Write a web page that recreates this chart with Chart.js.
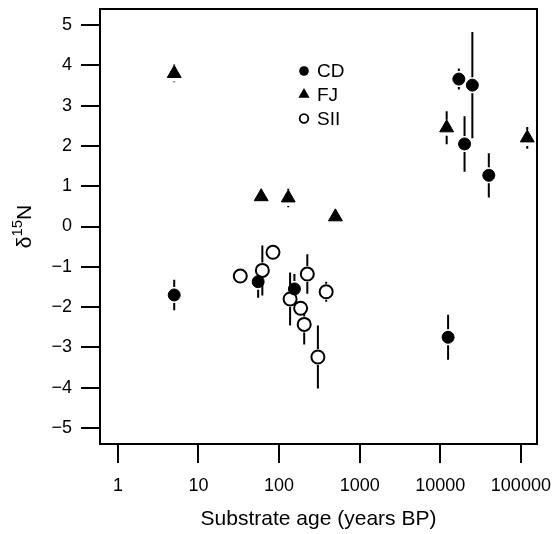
<!DOCTYPE html>
<html><head><meta charset="utf-8">
<script src="https://cdn.jsdelivr.net/npm/chart.js@4/dist/chart.umd.min.js"></script>
<style>html,body{margin:0;padding:0;background:#fff}</style>
</head><body>
<canvas id="c" width="552" height="534"></canvas>
<script>
// ---- data ----
const xTickValues = [1, 10, 100, 1000, 10000, 100000];
const yTickValues = [-5, -4, -3, -2, -1, 0, 1, 2, 3, 4, 5];

const cdAge   = [5, 55, 155, 12500, 17000, 20000, 25000, 40000];
const cdD15N  = [-1.70, -1.37, -1.55, -2.75, 3.66, 2.05, 3.51, 1.27];
const cdErr   = [0.38, 0.40, 0.37, 0.56, 0.26, 0.69, 1.32, 0.55];

const fjAge   = [5, 60, 130, 500, 12000, 120000];
const fjD15N  = [3.80, 0.74, 0.71, 0.24, 2.45, 2.20];
const fjErr   = [0.22, 0.10, 0.23, 0.10, 0.41, 0.27];

const siiAge  = [33, 62, 84, 137, 185, 205, 224, 303, 384];
const siiD15N = [-1.23, -1.09, -0.64, -1.80, -2.03, -2.43, -1.18, -3.24, -1.62];
const siiErr  = [0.10, 0.62, 0.10, 0.66, 0.20, 0.50, 0.49, 0.78, 0.25];

const seriesNames = ['CD', 'FJ', 'SII'];
const xTitle = 'Substrate age (years BP)';

const FONT = '"Liberation Sans", Arial, Helvetica, sans-serif';

function pts(xs, ys, es) { return xs.map((x, i) => ({x: x, y: ys[i], e: es[i]})); }

const errorBars = {
  id: 'errorBars',
  beforeDatasetsDraw(chart) {
    const ctx = chart.ctx, xs = chart.scales.x, ys = chart.scales.y;
    const gap = 8;
    ctx.save();
    ctx.strokeStyle = '#000';
    ctx.lineWidth = 2;
    chart.data.datasets.forEach(ds => {
      ds.data.forEach(p => {
        const px = xs.getPixelForValue(p.x), py = ys.getPixelForValue(p.y);
        const top = ys.getPixelForValue(p.y + p.e), bot = ys.getPixelForValue(p.y - p.e);
        ctx.beginPath();
        if (py - top > gap) { ctx.moveTo(px, py - gap); ctx.lineTo(px, top); }
        if (bot - py > gap) { ctx.moveTo(px, py + gap); ctx.lineTo(px, bot); }
        ctx.stroke();
      });
    });
    ctx.restore();
  }
};

const boxAndLabels = {
  id: 'boxAndLabels',
  afterDraw(chart) {
    const ctx = chart.ctx, a = chart.chartArea;
    ctx.save();
    ctx.strokeStyle = '#000';
    ctx.lineWidth = 2;
    ctx.strokeRect(a.left, a.top, a.right - a.left, a.bottom - a.top);

    // y axis title: delta 15 N
    const cy = (a.top + a.bottom) / 2;
    ctx.translate(25, cy);
    ctx.rotate(-Math.PI / 2);
    ctx.fillStyle = '#000';
    ctx.textBaseline = 'middle';
    ctx.font = '21px ' + FONT;
    const wD = ctx.measureText('\u03B4').width;
    const wN = ctx.measureText('N').width;
    ctx.font = '15px ' + FONT;
    const w15 = ctx.measureText('15').width;
    let x0 = -(wD + w15 + wN) / 2;
    ctx.textAlign = 'left';
    ctx.font = '21px ' + FONT;
    ctx.fillText('\u03B4', x0, 0);
    ctx.font = '15px ' + FONT;
    ctx.fillText('15', x0 + wD, -7);
    ctx.font = '21px ' + FONT;
    ctx.fillText('N', x0 + wD + w15, 0);
    ctx.restore();

    // legend
    ctx.save();
    const lx = 304, ly = [71, 94.5, 118.5], tx = 317;
    ctx.fillStyle = '#000';
    ctx.strokeStyle = '#000';
    ctx.beginPath(); ctx.arc(lx, ly[0], 4.8, 0, Math.PI * 2); ctx.fill();
    const r = 6.5;
    ctx.beginPath();
    ctx.moveTo(lx, ly[1] - r);
    ctx.lineTo(lx + r * Math.sqrt(3) / 2, ly[1] + r / 2);
    ctx.lineTo(lx - r * Math.sqrt(3) / 2, ly[1] + r / 2);
    ctx.closePath(); ctx.fill();
    ctx.lineWidth = 1.8;
    ctx.beginPath(); ctx.arc(lx, ly[2], 4.3, 0, Math.PI * 2); ctx.stroke();
    ctx.font = '19px ' + FONT;
    ctx.textAlign = 'left';
    ctx.textBaseline = 'middle';
    seriesNames.forEach((n, i) => ctx.fillText(n, tx, ly[i] + 1));
    ctx.restore();
  }
};

const gridOpts = { drawOnChartArea: false, drawTicks: true, tickLength: 19, color: '#000', lineWidth: 2 };

new Chart(document.getElementById('c'), {
  type: 'scatter',
  data: {
    datasets: [
      { label: seriesNames[0], data: pts(cdAge, cdD15N, cdErr), order: 1,
        pointStyle: 'circle', pointRadius: 6, backgroundColor: '#000', borderColor: '#000', borderWidth: 1 },
      { label: seriesNames[1], data: pts(fjAge, fjD15N, fjErr), order: 2,
        pointStyle: 'triangle', pointRadius: 8, backgroundColor: '#000', borderColor: '#000', borderWidth: 1 },
      { label: seriesNames[2], data: pts(siiAge, siiD15N, siiErr), order: 3,
        pointStyle: 'circle', pointRadius: 6.5, backgroundColor: '#fff', borderColor: '#000', borderWidth: 2 }
    ]
  },
  options: {
    responsive: false,
    animation: false,
    devicePixelRatio: 1,
    events: [],
    layout: { padding: { top: 8, right: 15, left: 0, bottom: 0 } },
    plugins: { legend: { display: false }, tooltip: { enabled: false } },
    scales: {
      x: {
        type: 'logarithmic',
        min: Math.pow(10, -0.2), max: Math.pow(10, 5.2),
        afterBuildTicks: s => { s.ticks = xTickValues.map(v => ({ value: v })); },
        ticks: { callback: v => String(v), font: { size: 18, family: FONT }, color: '#000', padding: 12, maxRotation: 0, autoSkip: false },
        grid: gridOpts,
        border: { display: true, color: '#000', width: 2 },
        title: { display: true, text: xTitle, color: '#000', font: { size: 21, family: FONT }, padding: { top: 0, bottom: 2 } },
        afterFit: s => { s.height = 90; s.paddingLeft = 0; s.paddingRight = 0; }
      },
      y: {
        type: 'linear',
        min: -5.4, max: 5.4,
        afterBuildTicks: s => { s.ticks = yTickValues.map(v => ({ value: v })); },
        ticks: { callback: v => (v < 0 ? '\u2212' + Math.abs(v) : String(v)), font: { size: 18, family: FONT }, color: '#000', padding: 9, autoSkip: false },
        grid: gridOpts,
        border: { display: true, color: '#000', width: 2 },
        afterFit: s => { s.width = 100; s.paddingTop = 0; s.paddingBottom = 0; }
      }
    }
  },
  plugins: [errorBars, boxAndLabels]
});
</script>
</body></html>
